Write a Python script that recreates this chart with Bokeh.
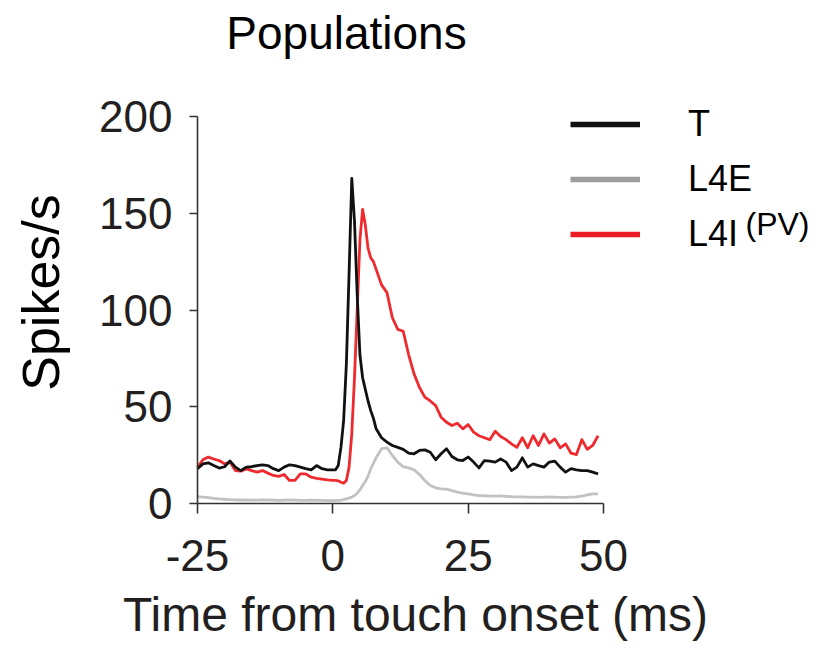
import math
from bokeh.plotting import figure
from bokeh.models import Range1d, FixedTicker, Label, Legend, LegendItem, ColumnDataSource
from bokeh.embed import file_html
from bokeh.resources import INLINE

# ---- data ----
time_ms = ([float(v) for v in range(-25, 1)]
           + [0.5, 1.0, 1.5, 2.0, 2.5, 3.0, 3.5, 4.0, 4.5, 5.0, 5.5, 6.0, 6.5, 7.0, 7.5, 8.0]
           + [float(v) for v in range(9, 50)])

t_rate = [18, 20.5, 21, 19.6, 18.3, 19, 22, 18.8, 17, 18.8, 19, 19.6, 20, 19.6, 18, 17,
          18.8, 20, 19.6, 18.8, 18, 17.4, 19.6, 18, 17.4, 17.4,
          17.4, 19.6, 29, 43, 72, 119, 168, 146, 108, 77, 65, 59, 53, 48, 44, 38.6,
          34, 31.7, 30, 29, 28, 26, 25.7, 27.4, 27.7, 26.5, 22.6, 25.7, 28.3, 24.3, 22.6,
          22.2, 24, 21.4, 18.4, 22.2, 21.9, 21.4, 23, 21.4, 17, 18.8, 23.6, 18.8, 20.5,
          19.6, 18.8, 21.4, 21.9, 18.8, 16.2, 18, 17.4, 17, 17, 16.2, 15.3]

l4e_rate = [3.5, 3.3, 3.0, 2.7, 2.4, 2.2, 2.0, 1.9, 1.8, 1.8, 1.7, 1.7, 1.8, 1.8, 1.7, 1.6,
            1.7, 1.8, 1.7, 1.6, 1.6, 1.7, 1.6, 1.6, 1.5, 1.5,
            1.5, 1.6, 1.7, 2.0, 2.4, 2.8, 3.3, 4.1, 5.3, 7, 9.3, 11.4, 14, 18, 20.8, 23.6,
            28.3, 28.8, 24.8, 21.4, 19, 18.4, 17.4, 15, 11.9, 9.3, 8.1, 7.6, 7.4, 6.7, 5.9,
            5.3, 5.0, 4.5, 4.1, 4.0, 3.8, 3.8, 3.9, 3.7, 3.5, 3.4, 3.4, 3.3, 3.3, 3.2, 3.3,
            3.4, 3.3, 3.2, 3.2, 3.3, 3.4, 3.8, 4.5, 5.0, 5.0]

l4i_rate = [18.8, 22.6, 24, 23, 22.2, 20.5, 21.4, 17, 16.7, 17.9, 17, 16.2, 17, 15.7, 14.5,
            14, 15, 11.9, 11.9, 15.3, 15.3, 13.6, 13, 12.6, 12.2, 11.9,
            11.9, 11.7, 11, 10.5, 11.9, 18.8, 36, 65, 100, 136, 152, 144, 132, 127, 125, 121,
            113, 109, 96, 90, 89, 77, 67, 60, 55, 53, 50.6, 44.6, 42, 40.3, 41.5, 38.6, 40.8,
            36.9, 35, 34, 33, 37.4, 34.6, 33, 30.8, 29, 34, 28.8, 35, 30, 36, 31.2, 33.4,
            28.8, 30.8, 26, 25.3, 33, 28, 30, 35]

series_names = ["T", "L4E", "L4I"]
x_ticks = [-25, 0, 25, 50]
y_ticks = [0, 50, 100, 150, 200]
x_limits = (-25, 50)
y_limits = (0, 200)

FONT = "Liberation Sans"
INK = "#231f20"
W, H = 826, 651
# plot box in page pixels: left 197, right 603, top 116, bottom 503
PX_L, PX_R, PX_T, PX_B = 197, 603, 116, 503
sx = (PX_R - PX_L) / (x_limits[1] - x_limits[0])
sy = (PX_B - PX_T) / (y_limits[1] - y_limits[0])
x_range = Range1d(x_limits[0] - PX_L / sx, x_limits[1] + (W - PX_R) / sx)
y_range = Range1d(y_limits[0] - (H - PX_B) / sy, y_limits[1] + PX_T / sy)

source = ColumnDataSource(dict(t=time_ms, T=t_rate, L4E=l4e_rate, L4I=l4i_rate))

p = figure(width=W, height=H, x_range=x_range, y_range=y_range,
           output_backend="svg", toolbar_location=None, title=None, min_border=0)
p.background_fill_color = "white"
p.border_fill_color = "white"
p.outline_line_color = None
p.xgrid.visible = False
p.ygrid.visible = False

# traces
p.line("t", "L4E", source=source, line_color="#c2c2c2", line_width=2.8, line_join="round")
p.line("t", "L4I", source=source, line_color="#ee2a2e", line_width=2.8, line_join="round")
p.line("t", "T", source=source, line_color="#111111", line_width=2.8, line_join="round")

# axes (the library's own axes, pinned to the data origin)
for ax in (p.xaxis[0], p.yaxis[0]):
    ax.axis_line_color = "#333333"
    ax.axis_line_width = 1.6
    ax.major_tick_line_color = "#333333"
    ax.major_tick_line_width = 1.6
    ax.major_tick_in = 0
    ax.minor_tick_line_color = None
    ax.major_label_text_font = FONT
    ax.major_label_text_font_size = "44px"
    ax.major_label_text_color = INK

xa = p.xaxis[0]
xa.ticker = FixedTicker(ticks=x_ticks)
xa.bounds = x_limits
xa.fixed_location = y_limits[0]
xa.major_tick_out = 10
xa.major_label_standoff = 26
xa.major_label_overrides = {-25: "-25"}

ya = p.yaxis[0]
ya.ticker = FixedTicker(ticks=y_ticks)
ya.bounds = y_limits
ya.fixed_location = x_limits[0]
ya.major_tick_out = 8
ya.major_label_standoff = 17

# titles (screen px from the page's bottom-left, anchored at the text's middle)
p.add_layout(Label(x=346, y=H - 32, x_units="screen", y_units="screen", text="Populations",
                   text_font=FONT, text_font_size="46px", text_color="black",
                   text_align="center", text_baseline="middle"))
p.add_layout(Label(x=40, y=H - 292, x_units="screen", y_units="screen", text="Spikes/s",
                   angle=math.pi / 2, text_font=FONT, text_font_size="52px", text_color="black",
                   text_align="center", text_baseline="middle"))
p.add_layout(Label(x=415, y=H - 614, x_units="screen", y_units="screen",
                   text="Time from touch onset (ms)",
                   text_font=FONT, text_font_size="48px", text_color=INK,
                   text_align="center", text_baseline="middle"))

# legend (thicker swatches via renderers that draw nothing)
nan = float("nan")
r_t = p.line("t", "v", source=ColumnDataSource(dict(t=[nan], v=[nan])),
             line_color="#111111", line_width=5.5)
r_e = p.line("t", "v", source=ColumnDataSource(dict(t=[nan], v=[nan])),
             line_color="#9d9d9d", line_width=5.5)
r_i = p.line("t", "v", source=ColumnDataSource(dict(t=[nan], v=[nan])),
             line_color="#ed1c24", line_width=5.5)
legend = Legend(items=[LegendItem(label=series_names[0], renderers=[r_t]),
                       LegendItem(label=series_names[1], renderers=[r_e]),
                       LegendItem(label=series_names[2], renderers=[r_i])],
                location=(570, H - 255), padding=0, margin=0, spacing=13,
                glyph_width=70, glyph_height=20, label_height=20, label_standoff=48,
                label_text_font=FONT, label_text_font_size="36px", label_text_color="black",
                border_line_color=None, background_fill_alpha=0)
p.add_layout(legend)
p.add_layout(Label(x=745, y=H - 223, x_units="screen", y_units="screen", text="(PV)",
                   text_font=FONT, text_font_size="32px", text_color="black",
                   text_align="left", text_baseline="middle"))

open("out.html", "w").write(file_html(p, INLINE))
